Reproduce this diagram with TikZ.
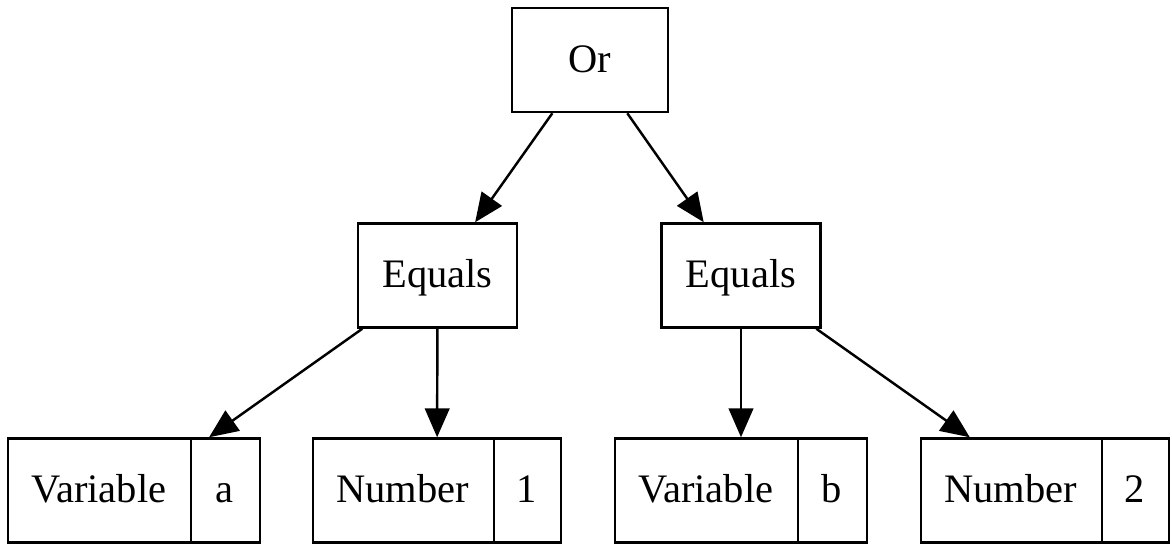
\documentclass[tikz,border=0pt]{standalone}
\usepackage{fontspec}
\setmainfont{Liberation Serif}
\usetikzlibrary{arrows.meta}
\begin{document}
\begin{tikzpicture}[x=0.346pt,y=-0.346pt,
  box/.style={draw,line width=0.85pt,minimum height=36pt,inner sep=0pt,font=\fontsize{14pt}{17pt}\selectfont},
  txt/.style={inner sep=0pt,text height=10.6pt,text depth=2pt,font=\fontsize{14pt}{17pt}\selectfont},
  divider/.style={line width=0.85pt},
  edge/.style={line width=0.85pt,-{Triangle[length=10pt,width=8.5pt]}}]
\useasboundingbox (0,0) rectangle (1172,546);
\node[box,minimum width=54pt,text height=10.6pt,text depth=2pt] (or) at (590,60) {Or};
\node[box,minimum width=55pt,text height=10.6pt,text depth=2pt] (eql) at (437.5,275.5) {Equals};
\node[box,minimum width=55pt,text height=10.6pt,text depth=2pt] (eqr) at (741,275.5) {Equals};
\node[box,minimum width=87.2pt] (va) at (134,490.5) {};
\node[box,minimum width=85.8pt] (na) at (437,490.5) {};
\node[box,minimum width=87.2pt] (vb) at (741,490.5) {};
\node[box,minimum width=85.8pt] (nb) at (1045,490.5) {};
% record fields
\draw[divider] ([xshift=63.7pt]va.north west) -- ([xshift=63.7pt]va.south west);
\node[txt] (vat) at ([xshift=31.85pt]va.west) {Variable};
\node[txt] (vav) at ([xshift=75.45pt]va.west) {a};
\draw[divider] ([xshift=63pt]na.north west) -- ([xshift=63pt]na.south west);
\node[txt] (nat) at ([xshift=31.5pt]na.west) {Number};
\node[txt] (nav) at ([xshift=74.4pt]na.west) {1};
\draw[divider] ([xshift=63.7pt]vb.north west) -- ([xshift=63.7pt]vb.south west);
\node[txt] (vbt) at ([xshift=31.85pt]vb.west) {Variable};
\node[txt] (vbv) at ([xshift=75.45pt]vb.west) {b};
\draw[divider] ([xshift=63pt]nb.north west) -- ([xshift=63pt]nb.south west);
\node[txt] (nbt) at ([xshift=31.5pt]nb.west) {Number};
\node[txt] (nbv) at ([xshift=74.4pt]nb.west) {2};
% edges
\draw[edge] (or) -- (eql);
\draw[edge] (or) -- (eqr);
\draw[edge] (eql) -- (va);
\draw[edge] (eql) -- (na);
\draw[edge] (eqr) -- (vb);
\draw[edge] (eqr) -- (nb);
\end{tikzpicture}
\end{document}
